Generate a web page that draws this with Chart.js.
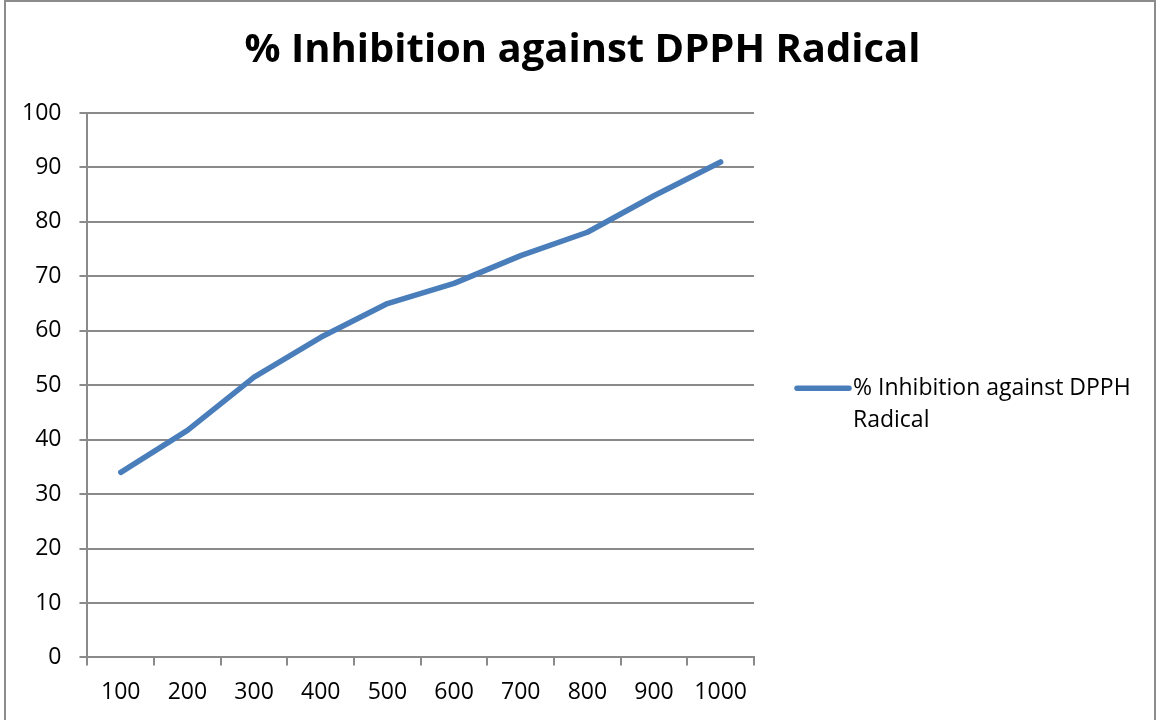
<!DOCTYPE html>
<html>
<head>
<meta charset="utf-8">
<script src="https://cdn.jsdelivr.net/npm/chart.js@4/dist/chart.umd.min.js"></script>
<style>
  html, body { margin: 0; padding: 0; background: #fff; overflow: hidden; }
  #frame {
    position: absolute; left: 4px; top: 0px; width: 1152px; height: 740px;
    border: 2px solid #8c8c8c; box-sizing: border-box;
  }
  #myChart { position: absolute; left: 0; top: 0; }
</style>
</head>
<body>
<div id="frame"></div>
<canvas id="myChart" width="1161" height="720"></canvas>
<script>
// concentration steps on the x axis
const concentrations = ['100', '200', '300', '400', '500', '600', '700', '800', '900', '1000'];
// measured % inhibition per concentration
const inhibition = [34, 41.7, 51.5, 58.8, 65, 68.7, 73.8, 78.1, 84.8, 91];
const seriesName = ['% Inhibition against DPPH', 'Radical'];
const chartTitle = '% Inhibition against DPPH Radical';

const lineBlue = '#4a7ebb';
const gridGray = '#8a8a8a';
const fontFamily = "'Open Sans', 'Noto Sans', sans-serif";

// legend with a wrapped label, drawn to the right of the plot
const sideLegend = {
    id: 'sideLegend',
    afterDraw(chart) {
        const { ctx, chartArea } = chart;
        const x = chartArea.right + 41;
        const y = (chartArea.top + chartArea.bottom) / 2 + 3;
        ctx.save();
        ctx.strokeStyle = lineBlue;
        ctx.lineWidth = 5.5;
        ctx.lineCap = 'round';
        ctx.beginPath();
        ctx.moveTo(x + 2, y);
        ctx.lineTo(x + 54, y);
        ctx.stroke();
        ctx.fillStyle = '#000';
        ctx.font = '23px ' + fontFamily;
        ctx.textBaseline = 'middle';
        seriesName.forEach((line, i) => ctx.fillText(line, x + 58, y + i * 32));
        ctx.restore();
    }
};

// setup
const data = {
    labels: concentrations,
    datasets: [{
        label: seriesName.join(' '),
        data: inhibition,
        borderColor: lineBlue,
        backgroundColor: lineBlue,
        borderWidth: 5.5,
        borderCapStyle: 'round',
        borderJoinStyle: 'round',
        pointRadius: 0,
        tension: 0,
        fill: false
    }]
};

// config
const config = {
    type: 'line',
    data,
    plugins: [sideLegend],
    options: {
        responsive: false,
        animation: false,
        layout: {
            padding: { left: 4, right: 0, top: 0, bottom: 1 }
        },
        scales: {
            x: {
                offset: true,
                grid: {
                    offset: true,
                    drawOnChartArea: false,
                    drawTicks: true,
                    tickLength: 8,
                    color: gridGray,
                    lineWidth: 2
                },
                border: { color: gridGray, width: 2 },
                ticks: {
                    color: '#000',
                    padding: 13,
                    maxRotation: 0,
                    font: { family: fontFamily, size: 23 }
                }
            },
            y: {
                min: 0,
                max: 100,
                grid: {
                    color: gridGray,
                    lineWidth: 2,
                    tickLength: 8
                },
                border: { color: gridGray, width: 2 },
                ticks: {
                    stepSize: 10,
                    color: '#000',
                    padding: 18,
                    font: { family: fontFamily, size: 23 }
                }
            },
            // empty strip on the right that holds the legend
            legendSpace: {
                type: 'linear',
                position: 'right',
                display: true,
                grid: { display: false },
                border: { display: false },
                ticks: { display: false },
                afterFit(scale) { scale.width = 407; }
            }
        },
        plugins: {
            title: {
                display: true,
                text: chartTitle,
                color: '#000',
                padding: { top: 27, bottom: 38 },
                font: { family: fontFamily, size: 40, weight: 'bold' }
            },
            tooltip: { enabled: false },
            legend: { display: false }
        }
    }
};

// render init block
const myChart = new Chart(
    document.getElementById('myChart'),
    config
);
</script>
</body>
</html>
